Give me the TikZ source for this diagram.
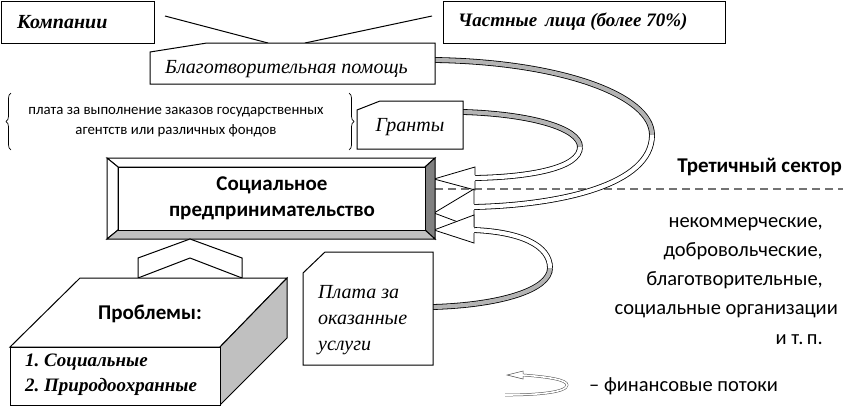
\documentclass[tikz,border=0pt]{standalone}
\usepackage{fontspec}
\newfontfamily\ser{Liberation Serif}
\newfontfamily\san{Carlito}
\usetikzlibrary{decorations.pathreplacing}
\definecolor{bevdark}{HTML}{808080}
\definecolor{bevlight}{HTML}{C0C0C0}
\definecolor{ribgray}{HTML}{B4B4B4}
\begin{document}
\begin{tikzpicture}[x=1pt,y=-1pt,
 boxline/.style={draw=black, line width=1pt},
 ribG/.style={draw=black, line width=0.8pt, double=ribgray, double distance=4.2pt},
 ribW/.style={draw=black, line width=0.8pt, double=white, double distance=4.2pt},
 headline/.style={draw=black, line width=0.8pt},
 itx/.style={font=\ser\itshape\fontsize{20}{24}\selectfont, inner sep=0pt},
 itbx/.style={font=\ser\bfseries\itshape\fontsize{20}{24}\selectfont, inner sep=0pt},
 itbs/.style={font=\ser\bfseries\itshape\fontsize{19}{23}\selectfont, inner sep=0pt},
 sansx/.style={font=\san\fontsize{20.5}{24}\selectfont, inner sep=0pt},
 sanss/.style={font=\san\fontsize{14.8}{18}\selectfont, inner sep=0pt, align=center},
 sansb/.style={font=\san\bfseries\fontsize{21}{25}\selectfont, inner sep=0pt},
]
\useasboundingbox (0,0) rectangle (843,407);

% named anchor points
\coordinate (blagE) at (435,60);
\coordinate (grE) at (463,112);
\coordinate (plE) at (433,307);
\coordinate (h1) at (475,178);
\coordinate (h2) at (474,207);
\coordinate (h3) at (474,230);

% sector line
\draw[black!55, line width=1.2pt, dash pattern=on 8pt off 5pt] (435,189) -- (843,189);

% ribbons
\draw[ribG] (blagE) .. controls (560,62) and (652,95) .. (652,135);
\draw[ribW] (652,135) .. controls (652,185) and (560,205) .. (h2);
\draw[ribG] (grE) .. controls (530,114) and (580,128) .. (580,147);
\draw[ribW] (580,147) .. controls (580,168) and (530,177) .. (h1);
\draw[ribG] (plE) .. controls (500,305) and (550,290) .. (550,268);
\draw[ribW] (550,268) .. controls (550,245) and (520,232) .. (h3);

% arrow heads
\fill[white] (434,179) -- (475,167) -- (475,190) -- cycle;
\draw[headline] (475,175) -- (475,167) -- (434,179) -- (475,190) -- (475,181);
\fill[white] (434,213) -- (474,189) -- (474,228) -- cycle;
\draw[headline] (474,204) -- (474,189) -- (434,213) -- (474,228) -- (474,210);
\fill[white] (434,230) -- (474,215) -- (474,243) -- cycle;
\draw[headline] (474,227) -- (474,215) -- (434,230) -- (474,243) -- (474,233);

% top boxes
\draw[boxline, fill=white] (1,1) rectangle (154,43);
\node[itbx, anchor=west] (komp) at (17,22) {Компании};
\draw[boxline, fill=white] (443,1) rectangle (725,43);
\node[itbs, anchor=west] (chast) at (458,22) {Частные\, лица (более 70\%)};
\draw[line width=1pt] (165,16) -- (268,43);
\draw[line width=1pt] (305,43) -- (432,16);

\draw[boxline, fill=white] (150,52) -- (207,43) -- (435,43) -- (435,84) -- (150,84) -- cycle;
\node[itx, anchor=west] (blag) at (165,69) {Благотворительная помощь};

% braces and note
\draw[decorate, decoration={brace, amplitude=5pt}, line width=0.7pt] (11,150) -- (11,93);
\draw[decorate, decoration={brace, amplitude=5pt}, line width=0.7pt] (349,93) -- (349,150);
\node[sanss] (note) at (176,122) {плата за выполнение заказов государственных\\[2pt]агентств или различных фондов};

\draw[boxline, fill=white] (357,110) -- (380,101) -- (463,101) -- (463,149) -- (357,149) -- cycle;
\node[itx] (gr) at (410,127) {Гранты};

% main bevelled box
\draw[boxline, fill=white] (107,158) -- (435,158) -- (425,167) -- (118,167) -- cycle;
\draw[boxline, fill=white] (107,158) -- (118,167) -- (118,230) -- (107,239) -- cycle;
\draw[boxline, fill=bevdark] (435,158) -- (435,239) -- (425,230) -- (425,167) -- cycle;
\draw[boxline, fill=bevlight] (107,239) -- (435,239) -- (425,230) -- (118,230) -- cycle;
\draw[boxline, fill=white] (118,167) rectangle (425,230);
\node[sansb] (se1) at (272,185) {Социальное};
\node[sansb] (se2) at (272,213) {предпринимательство};

% chevron
\draw[boxline, fill=white] (138,278) -- (138,258) -- (190,239) -- (242,258) -- (242,278) -- (190,258) -- cycle;

% 3D problems box
\draw[boxline, fill=white] (10,347) -- (80,278) -- (287,278) -- (220,347) -- cycle;
\draw[boxline, fill=bevlight] (220,347) -- (287,278) -- (287,338) -- (220,405) -- cycle;
\draw[boxline, fill=white] (10,347) rectangle (220,405);
\node[sansb] (prob) at (150,314) {Проблемы:};
\node[itbs, anchor=west] (p1) at (25,362) {1.~Социальные};
\node[itbs, anchor=west] (p2) at (25,387) {2.~Природоохранные};

% plata box
\draw[boxline, fill=white] (303,273) -- (325,252) -- (433,252) -- (433,365) -- (303,365) -- cycle;
\node[itx, anchor=west] (pl1) at (318,292) {Плата за};
\node[itx, anchor=west] (pl2) at (318,320) {оказанные};
\node[itx, anchor=west] (pl3) at (318,348) {услуги};

% third sector
\node[sansb, anchor=east] (ts) at (842,167) {Третичный сектор};
\node[sansx, anchor=base east] (r1) at (823,227) {некоммерческие,};
\node[sansx, anchor=base east] (r2) at (823,256) {добровольческие,};
\node[sansx, anchor=base east] (r3) at (823,285) {благотворительные,};
\node[sansx, anchor=base east] (r4) at (838,314) {социальные организации};
\node[sansx, anchor=base east] (r5) at (823,344) {и т.\,п.};

% legend
\coordinate (lgh) at (523,375);
\draw[draw=black!70, line width=0.5pt, double=white, double distance=1.6pt] (lgh) .. controls (550,377) and (567,380) .. (567,385) .. controls (567,392) and (540,395) .. (505,395);
\fill[white] (507,375) -- (523,371) -- (523,379) -- cycle;
\draw[black!70, line width=0.5pt] (523,374) -- (523,371) -- (507,375) -- (523,379) -- (523,376);
\node[sansx, anchor=west] (lgt) at (589,386) {– финансовые потоки};
\end{tikzpicture}
\end{document}
